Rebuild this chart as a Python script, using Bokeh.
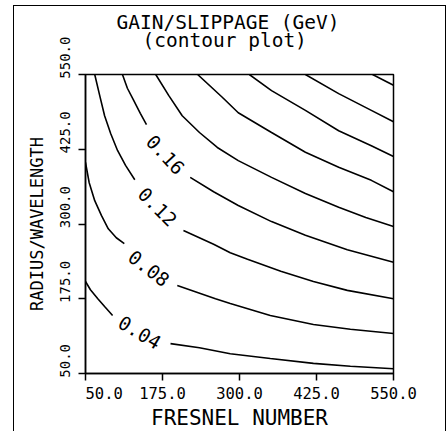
from bokeh.plotting import figure
from bokeh.models import Range1d, FixedTicker, Title
from bokeh.core.properties import value
from bokeh.embed import file_html
from bokeh.resources import INLINE

# ---------------- data ----------------
title_text = "GAIN/SLIPPAGE (GeV)"
subtitle_text = "(contour plot)"
x_label = "FRESNEL NUMBER"
y_label = "RADIUS/WAVELENGTH"

tick_values = [50, 175, 300, 425, 550]
tick_labels = ["50.0", "175.0", "300.0", "425.0", "550.0"]

contour_levels = [0.04, 0.08, 0.12, 0.16, 0.20, 0.24, 0.28, 0.32, 0.36]

# level 0.04 (broken by its label)
c004_x1 = [50, 58, 70, 81, 94]
c004_y1 = [204, 190, 175, 162, 147]
c004_x2 = [188, 235, 285, 350, 420, 480, 550]
c004_y2 = [100, 93, 83, 75, 67, 62, 58]

# level 0.08
c008_x1 = [50, 56, 65, 76, 87, 100, 113]
c008_y1 = [403, 369, 339, 314, 292, 277, 267]
c008_x2 = [199, 261, 285, 350, 420, 480, 550]
c008_y2 = [197, 175, 167, 147, 132, 124, 117]

# level 0.12
c012_x1 = [65, 73, 81, 91, 102, 115, 130]
c012_y1 = [550, 515, 481, 451, 423, 398, 374]
c012_x2 = [209, 258, 285, 313, 367, 420, 475, 550]
c012_y2 = [289, 266, 252, 241, 221, 204, 189, 175]

# level 0.16
c016_x1 = [110, 118, 128, 139, 149]
c016_y1 = [550, 527, 507, 485, 466]
c016_x2 = [220, 258, 298, 352, 407, 475, 550]
c016_y2 = [378, 354, 331, 304, 281, 257, 236]

# unlabelled levels
c020_x = [164, 185, 207, 235, 264, 298, 352, 407, 461, 505, 550]
c020_y = [550, 515, 481, 453, 428, 406, 378, 351, 328, 311, 296]
c024_x = [232, 272, 298, 352, 407, 461, 514, 550]
c024_y = [550, 512, 486, 453, 420, 395, 373, 354]
c028_x = [316, 352, 407, 461, 514, 550]
c028_y = [550, 523, 490, 456, 431, 413]
c032_x = [407, 461, 514, 550]
c032_y = [550, 518, 490, 471]
c036_x = [516, 550]
c036_y = [550, 532]

# contour labels
label_text = ["0.04", "0.08", "0.12", "0.16"]
label_x = [138, 153, 167, 180]
label_y = [119, 226, 329, 416]
label_angle = [-31, -38, -45, -47]

# ---------------- figure ----------------
FONT = "DejaVu Sans Mono"
NBSP = "\u00a0"

p = figure(
    frame_width=308, frame_height=299,
    x_range=Range1d(50, 550), y_range=Range1d(50, 550),
    output_backend="svg", toolbar_location=None,
    min_border_left=71, min_border_right=52,
    min_border_top=68, min_border_bottom=54,
    background_fill_color="white", border_fill_color="white",
)
p.styles = {"border": "1px solid black", "margin-left": "13px", "margin-top": "5px"}

p.grid.visible = False
p.outline_line_color = "black"
p.outline_line_width = 1.5

# main title (outermost) and subtitle (next to the frame)
p.title.text = title_text
p.title.align = "left"
p.title.offset = 31
p.title.vertical_align = "bottom"
p.title.text_font = FONT
p.title.text_font_size = "19.5px"
p.title.text_font_style = "normal"
p.title.text_color = "black"
p.title.standoff = -53

p.add_layout(Title(text=subtitle_text, align="left", offset=57,
                   vertical_align="top",
                   text_font=FONT, text_font_size="19.5px",
                   text_font_style="normal", text_color="black",
                   standoff=42), "above")

# axes
for ax in (p.xaxis[0], p.yaxis[0]):
    ax.ticker = FixedTicker(ticks=tick_values)
    ax.major_tick_out = 7
    ax.major_tick_in = 0
    ax.minor_tick_line_color = None
    ax.axis_line_width = 1.5
    ax.major_tick_line_width = 1.5
    ax.axis_label_text_font = FONT
    ax.axis_label_text_font_style = "normal"
    ax.axis_label_text_color = "black"
    ax.major_label_text_font = FONT
    ax.major_label_text_color = "black"

# x labels are centred on their ticks, except the first one, which the
# original starts at its tick
x_over = dict(zip(tick_values, tick_labels))
x_over[tick_values[0]] = NBSP * len(tick_labels[0]) + tick_labels[0]
p.xaxis.major_label_overrides = x_over
p.xaxis.major_label_text_font_size = "15.5px"
p.xaxis.major_label_standoff = 4
p.xaxis.axis_label = x_label
p.xaxis.axis_label_text_font_size = "21px"
p.xaxis.axis_label_standoff = 0

# the original writes each y tick label starting just below its tick;
# leading no-break spaces move the centred label accordingly
p.yaxis.major_label_overrides = {
    v: NBSP * (len(t) - 1) + t for v, t in zip(tick_values, tick_labels)
}
p.yaxis.major_label_orientation = "vertical"
p.yaxis.major_label_text_font_size = "14px"
p.yaxis.major_label_standoff = 6
p.yaxis.axis_label = y_label
p.yaxis.axis_label_text_font_size = "17px"
p.yaxis.axis_label_standoff = 7

# contour lines
xs = [c004_x1, c004_x2, c008_x1, c008_x2, c012_x1, c012_x2, c016_x1, c016_x2,
      c020_x, c024_x, c028_x, c032_x, c036_x]
ys = [c004_y1, c004_y2, c008_y1, c008_y2, c012_y1, c012_y2, c016_y1, c016_y2,
      c020_y, c024_y, c028_y, c032_y, c036_y]
p.multi_line(xs=xs, ys=ys, line_color="black", line_width=1.6)

# contour labels
p.text(x=label_x, y=label_y, text=label_text, angle=label_angle,
       angle_units="deg", text_align="center", text_baseline="middle",
       text_font=value(FONT), text_font_size="19px", text_color="black")

open("out.html", "w").write(file_html(p, INLINE))
